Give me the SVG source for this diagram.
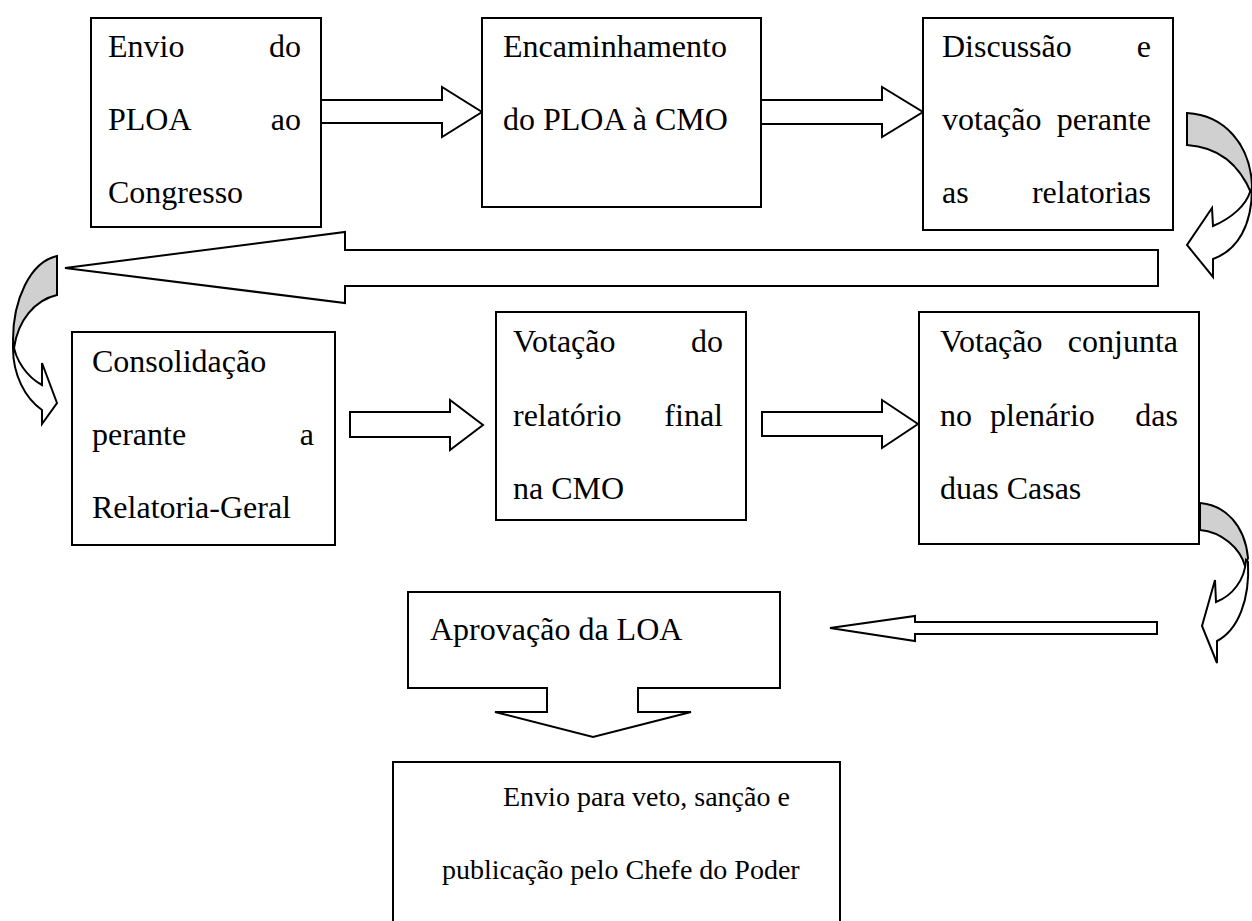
<svg xmlns="http://www.w3.org/2000/svg" width="1252" height="921" viewBox="0 0 1252 921">
<style>
.box{fill:#fff;stroke:#000;stroke-width:2}
.arr{fill:#fff;stroke:#000;stroke-width:2;stroke-linejoin:miter}
.back{fill:#d0d0d0;stroke:#000;stroke-width:2}
text{font-family:"Liberation Serif","Times New Roman",serif;font-size:32px;fill:#000}
.e{text-anchor:end}
.s{font-size:28px}
</style>
<rect width="1252" height="921" fill="#fff"/>
<g id="connectors">
<polygon class="arr" points="321,100 442,100 442,87 482,112 442,137 442,123 321,123"/>
<polygon class="arr" points="761,100 882,100 882,87 923,112 882,137 882,124 761,124"/>
<path class="back" d="M1187,113 C1225,115 1250,145 1252,185 L1252,195 C1240,165 1218,147 1187,145 Z"/>
<path class="arr" d="M1252,188 C1252,225 1238,250 1213,259 L1213,277 L1187,245 L1212,208 L1213,226 C1232,218 1246,205 1250,192 Z"/>
<polygon class="arr" points="1158,250 345,250 345,232 65,268 345,303 345,286 1158,286"/>
<path class="back" d="M57,256 C30,262 13,300 13,340 L14,348 C18,320 35,300 57,295 Z"/>
<path class="arr" d="M13,342 C15,360 27,377 42,385 L42,363 L57,403 L42,424 L42,410 C25,398 13,375 13,348 Z"/>
<polygon class="arr" points="350,412 450,412 450,400 483,425 450,450 450,437 350,437"/>
<polygon class="arr" points="762,412 882,412 882,400 918,424 882,448 882,436 762,436"/>
<path class="back" d="M1200,503 C1225,505 1245,525 1248,558 L1245,566 C1240,548 1222,532 1200,530 Z"/>
<path class="arr" d="M1246,560 C1245,580 1232,596 1216,602 L1215,580 L1202,626 L1217,663 L1217,641 C1238,630 1250,600 1248,562 Z"/>
<polygon class="arr" points="1157,622 915,622 915,616 830,628 915,641 915,634 1157,634"/>
</g>
<g id="n1">
<rect class="box" x="91" y="18" width="230" height="209"/>
<text x="108" y="57">Envio</text><text class="e" x="301" y="57">do</text>
<text x="108" y="130">PLOA</text><text class="e" x="301" y="130">ao</text>
<text x="108" y="203">Congresso</text>
</g>
<g id="n2">
<rect class="box" x="482" y="18" width="279" height="189"/>
<text x="503" y="57">Encaminhamento</text>
<text x="503" y="130">do PLOA à CMO</text>
</g>
<g id="n3">
<rect class="box" x="923" y="18" width="250" height="212"/>
<text x="942" y="57">Discussão</text><text class="e" x="1151" y="57">e</text>
<text x="942" y="130">votação</text><text class="e" x="1151" y="130">perante</text>
<text x="942" y="203">as</text><text class="e" x="1151" y="203">relatorias</text>
</g>
<g id="n4">
<rect class="box" x="72" y="332" width="263" height="213"/>
<text x="92" y="372">Consolidação</text>
<text x="92" y="445">perante</text><text class="e" x="314" y="445">a</text>
<text x="92" y="518">Relatoria-Geral</text>
</g>
<g id="n5">
<rect class="box" x="496" y="312" width="250" height="208"/>
<text x="513" y="352">Votação</text><text class="e" x="723" y="352">do</text>
<text x="513" y="426">relatório</text><text class="e" x="723" y="426">final</text>
<text x="513" y="499">na CMO</text>
</g>
<g id="n6">
<rect class="box" x="919" y="312" width="280" height="232"/>
<text x="940" y="352">Votação</text><text class="e" x="1178" y="352">conjunta</text>
<text x="940" y="426">no</text><text x="990" y="426">plenário</text><text class="e" x="1178" y="426">das</text>
<text x="940" y="499">duas Casas</text>
</g>
<g id="n7">
<path class="box" d="M408,592 L780,592 L780,688 L638,688 L638,712 L691,712 L593,737 L495,712 L547,712 L547,688 L408,688 Z"/>
<text x="430" y="640">Aprovação da LOA</text>
</g>
<g id="n8">
<path class="box" d="M393,960 L393,762 L840,762 L840,960"/>
<text class="s" x="503" y="806">Envio para veto, sanção e</text>
<text class="s" x="442" y="879">publicação pelo Chefe do Poder</text>
</g>
</svg>
